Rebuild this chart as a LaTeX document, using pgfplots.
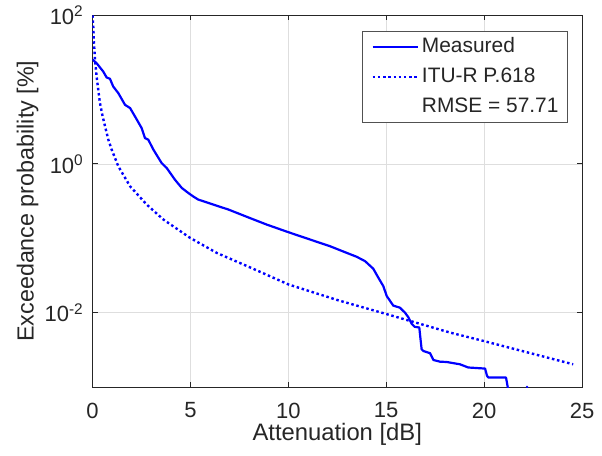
\documentclass[border=0pt]{standalone}
\usepackage{fontspec}
\setmainfont{Liberation Sans}
\usepackage{pgfplots}
\pgfplotsset{compat=1.18}
\definecolor{axgray}{HTML}{262626}
\definecolor{gridgray}{HTML}{DEDEDE}
\definecolor{mblue}{HTML}{0000FF}

\begin{document}
\begin{tikzpicture}
\useasboundingbox (-92.5pt,-68pt) rectangle (509.5pt,387pt);
\begin{axis}[
  at={(0pt,0pt)}, anchor=south west,
  scale only axis,
  width=489.5pt, height=371.7pt,
  xmin=0, xmax=25, ymin=1e-3, ymax=1e2,
  ymode=log,
  xtick={0,5,10,15,20,25},
  ytick={1e-2,1,1e2},
  yticklabels={10\textsuperscript{-2},10\textsuperscript{0},10\textsuperscript{2}},
  yminorticks=false,
  grid=major,
  major grid style={gridgray, line width=0.8pt},
  tick align=inside,
  major tick length=5pt,
  axis line style={axgray, line width=1pt},
  every tick/.style={axgray, line width=1pt},
  /pgf/number format/assume math mode=true,
  tick label style={font=\fontsize{22}{26}\selectfont, text=axgray},
  xticklabel style={anchor=north, inner sep=0pt, yshift=-15.5pt},
  yticklabel style={anchor=east, inner sep=0pt, xshift=-9pt},
  xlabel={Attenuation [dB]},
  ylabel={Exceedance probability [\%]},
  xlabel style={at={(axis description cs:0.5,-0.1426)}, anchor=base,
    font=\fontsize{23.8}{28}\selectfont, text=axgray},
  ylabel style={at={(axis description cs:-0.1205,0.5)}, rotate=0, anchor=base,
    font=\fontsize{23.3}{28}\selectfont, text=axgray},
  legend cell align=left,
  legend image code/.code={\draw[#1] (0pt,0pt) -- (45pt,0pt);},
  legend style={at={(axis description cs:0.971,0.958)}, anchor=north east,
    draw=axgray!80, line width=0.7pt, fill=white,
    inner xsep=9pt, inner ysep=6pt,
    row sep=10.5pt, column sep=3pt,
    font=\fontsize{20.9}{25}\selectfont, text=axgray,
    nodes={inner sep=0pt, text height=15pt, text depth=4.5pt}},
]
\addplot[mblue, line width=2.2pt, line join=round] coordinates {
  (0,25.4)(0.21,22.7)(0.55,17.5)(0.72,14.6)(0.89,14.0)(1.06,11.0)
  (1.32,8.97)(1.66,6.25)(1.92,5.65)(2.17,4.36)(2.51,3.04)(2.68,2.23)
  (2.85,2.12)(3.11,1.56)(3.53,1.03)(3.79,0.883)(4.21,0.615)(4.56,0.476)
  (4.89,0.408)(5.15,0.365)(5.40,0.332)(5.91,0.300)(6.43,0.270)(6.94,0.244)(8.05,0.187)
  (8.90,0.153)(10.0,0.121)(11.11,0.0964)(12.13,0.0783)(12.98,0.0638)
  (13.49,0.0565)(13.92,0.0493)(14.34,0.0390)(14.60,0.0295)(14.85,0.0228)
  (15.03,0.0167)(15.36,0.01245)(15.70,0.01167)(15.96,0.0100)(16.13,0.00871)
  (16.30,0.00708)(16.45,0.00646)(16.69,0.00631)(16.75,0.00447)(16.81,0.00321)
  (16.90,0.00305)(17.24,0.00285)(17.41,0.00231)(17.75,0.00219)(18.09,0.00217)
  (18.77,0.00202)(19.19,0.00183)(20.05,0.00177)(20.15,0.00141)(20.22,0.00134)
  (21.12,0.00134)(21.24,0.00089)
};
\addlegendentry{Measured}
\addplot[mblue, line width=2.4pt, dash pattern=on 2.5pt off 2.7pt] coordinates {
  (0,100)(0.04,70.8)(0.077,41.7)(0.13,25.1)(0.21,15.0)(0.38,6.61)(0.5,4.59)
  (0.64,3.20)(0.81,2.12)(0.98,1.56)(1.32,0.929)(1.57,0.718)(1.92,0.501)
  (2.77,0.284)(3.62,0.179)(4.98,0.1016)(6.34,0.0638)(8.47,0.0363)
  (10.0,0.0240)(12.5,0.0148)(15.03,0.00955)(18.26,0.0054)(19.96,0.00417)
  (24.55,0.00202)
};
\addlegendentry{ITU-R P.618}
\addlegendimage{legend image code/.code={}}
\addlegendentry{RMSE = 57.71}
\addplot[mblue, line width=2.2pt, forget plot] coordinates {
  (22.17,0.00098)(22.23,0.00102)
};
\end{axis}
\end{tikzpicture}
\end{document}
